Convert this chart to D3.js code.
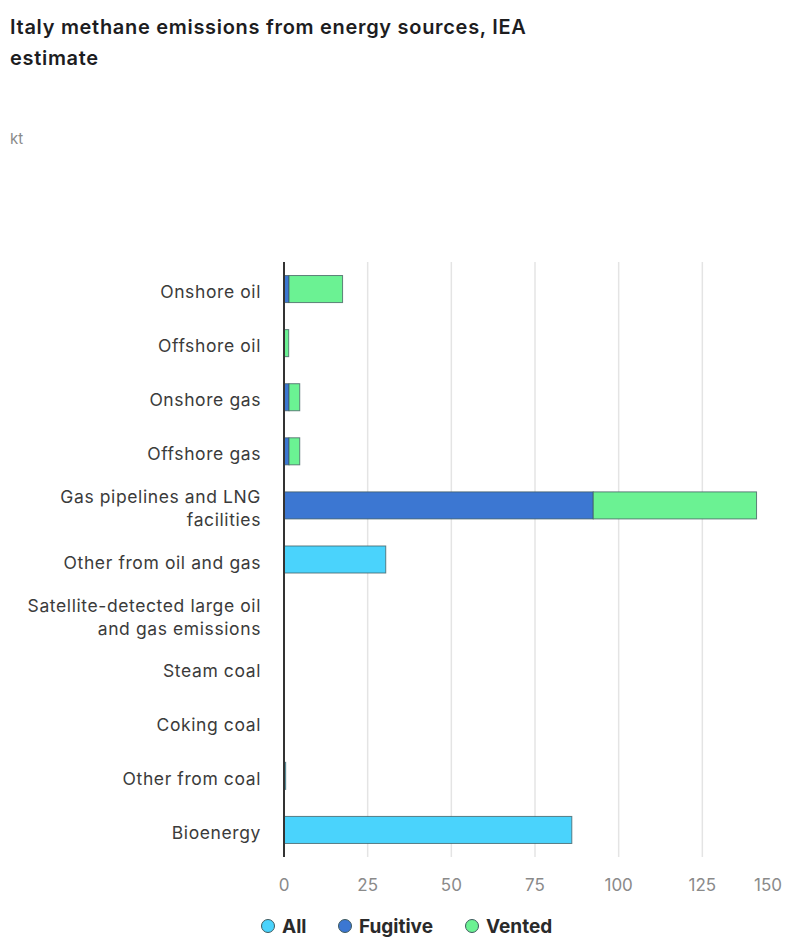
<!DOCTYPE html>
<html>
<head>
<meta charset="utf-8">
<script src="https://cdn.jsdelivr.net/npm/d3@7"></script>
<style>
  body { margin: 0; background: #ffffff; font-family: Inter, "Open Sans", sans-serif; }
  #chart svg { display: block; }
</style>
</head>
<body>
<div id="chart"></div>
<script>
// 데이터 (그림에서 읽은 값, kt)
const categories = [
  "Onshore oil", "Offshore oil", "Onshore gas", "Offshore gas",
  "Gas pipelines and LNG facilities", "Other from oil and gas",
  "Satellite-detected large oil and gas emissions",
  "Steam coal", "Coking coal", "Other from coal", "Bioenergy"
]
// 줄바꿈된 라벨
const labelLines = [
  ["Onshore oil"], ["Offshore oil"], ["Onshore gas"], ["Offshore gas"],
  ["Gas pipelines and LNG", "facilities"], ["Other from oil and gas"],
  ["Satellite-detected large oil", "and gas emissions"],
  ["Steam coal"], ["Coking coal"], ["Other from coal"], ["Bioenergy"]
]
const seriesKeys = ["All", "Fugitive", "Vented"]
const allValues      = [0, 0, 0, 0, 0, 30.4, 0, 0, 0, 0.5, 86.0]
const fugitiveValues = [1.5, 0.1, 1.5, 1.5, 92.4, 0, 0, 0, 0, 0, 0]
const ventedValues   = [16.0, 1.3, 3.2, 3.2, 48.8, 0, 0, 0, 0, 0, 0]
const xTicks = [0, 25, 50, 75, 100, 125, 150]
const colors = ["#4ad3fc", "#3c77d2", "#6bf293"]

const width = 787, height = 940
const margin = { top: 262, right: 1, bottom: 83, left: 284 }
const innerW = width - margin.left - margin.right
const innerH = height - margin.top - margin.bottom

const svg = d3.select("#chart").append("svg")
  .attr("width", width)
  .attr("height", height)

// 제목
const titleLines = ["Italy methane emissions from energy sources, IEA", "estimate"]
svg.selectAll(".title")
  .data(titleLines)
  .enter().append("text")
  .attr("class", "title")
  .attr("x", 10).attr("y", (d, i) => 34 + i * 31)
  .attr("font-size", 20).attr("font-weight", 600).attr("fill", "#1d1d1f")
  .attr("letter-spacing", 0.7)
  .text(d => d)
svg.append("text").attr("x", 10).attr("y", 144)
  .attr("font-size", 15).attr("fill", "#8a8a8a")
  .text("kt")

const g = svg.append("g").attr("transform", `translate(${margin.left},${margin.top})`)

const xScale = d3.scaleLinear().domain([0, 150]).range([0, innerW])
const yScale = d3.scaleBand().domain(categories).range([0, innerH]).paddingInner(0.5).paddingOuter(0.25)

// 격자선
g.append("g")
  .selectAll("line")
  .data(xTicks.filter(d => d > 0 && d < 150))
  .enter().append("line")
  .attr("x1", d => xScale(d)).attr("x2", d => xScale(d))
  .attr("y1", 0).attr("y2", innerH)
  .attr("stroke", "#e4e4e4").attr("stroke-width", 1.5)

// 스택 데이터
const table = categories.map((c, i) => ({
  category: c, All: allValues[i], Fugitive: fugitiveValues[i], Vented: ventedValues[i]
}))
const stacked = d3.stack().keys(seriesKeys)(table)
const cScale = d3.scaleOrdinal().domain(seriesKeys).range(colors)

g.append("g")
  .selectAll("g")
  .data(stacked)
  .enter().append("g")
  .attr("fill", d => cScale(d.key))
  .selectAll("rect")
  .data(d => d.filter(p => p[1] - p[0] > 0))
  .enter().append("rect")
  .attr("x", d => xScale(d[0]))
  .attr("y", d => yScale(d.data.category))
  .attr("width", d => xScale(d[1]) - xScale(d[0]))
  .attr("height", yScale.bandwidth())
  .attr("stroke", "#3f5a5e").attr("stroke-opacity", 0.75).attr("stroke-width", 1)

// x축 라벨
g.append("g")
  .selectAll("text")
  .data(xTicks)
  .enter().append("text")
  .attr("x", d => d === 150 ? xScale(d) - 18 : xScale(d))
  .attr("y", innerH + 34)
  .attr("text-anchor", "middle")
  .attr("font-size", 17).attr("fill", "#8a8a8a")
  .text(d => d)

// y축 선
g.append("line")
  .attr("x1", 0).attr("x2", 0).attr("y1", 0).attr("y2", innerH)
  .attr("stroke", "#333").attr("stroke-width", 2)

// y축 라벨
const lab = g.append("g")
  .selectAll("text")
  .data(categories)
  .enter().append("text")
  .attr("text-anchor", "end")
  .attr("font-size", 17.5).attr("fill", "#3b3b3b")
  .attr("letter-spacing", 0.6)
  .attr("transform", (d, i) => {
    const n = labelLines[i].length
    const cy = yScale(d) + yScale.bandwidth() / 2
    return `translate(-23,${cy + 9 - (n - 1) * 11})`
  })
lab.selectAll("tspan")
  .data((d, i) => labelLines[i])
  .enter().append("tspan")
  .attr("x", 0).attr("dy", (d, i) => i === 0 ? 0 : 23)
  .text(d => d)

// 범례
const legendX = [268, 345, 472]
const legend = svg.append("g")
  .selectAll("g")
  .data(seriesKeys)
  .enter().append("g")
  .attr("transform", (d, i) => `translate(${legendX[i]},926)`)
legend.append("circle").attr("r", 6.5)
  .attr("fill", (d, i) => colors[i]).attr("stroke", "#3f5a5e").attr("stroke-width", 1)
legend.append("text").attr("x", 14).attr("y", 7)
  .attr("font-size", 19).attr("font-weight", 700).attr("fill", "#2a2a2a")
  .text(d => d)
</script>
</body>
</html>
